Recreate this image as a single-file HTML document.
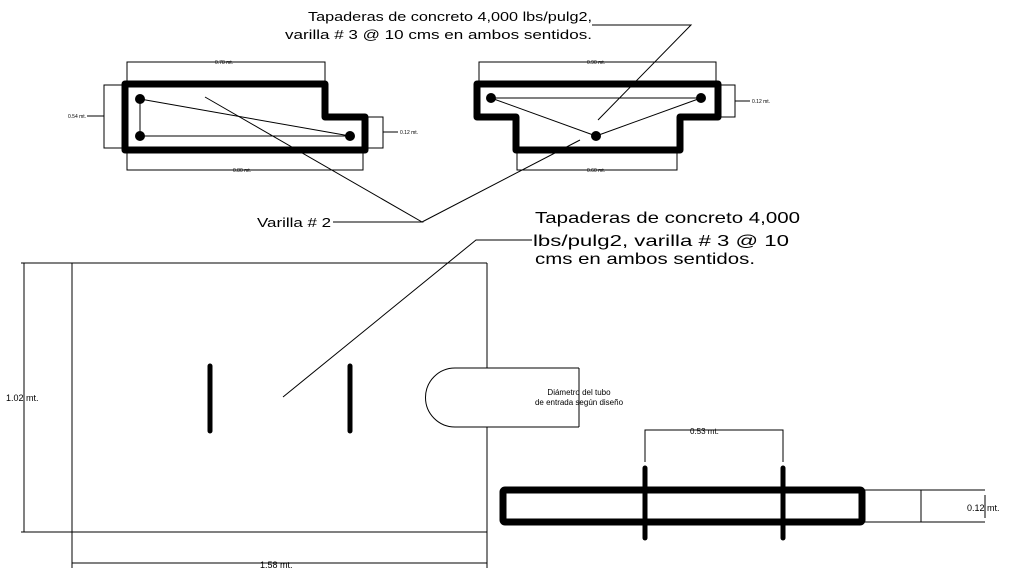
<!DOCTYPE html>
<html><head><meta charset="utf-8"><style>html,body{margin:0;padding:0;background:#fff}svg{display:block}</style></head>
<body>
<svg width="1013" height="573" viewBox="0 0 1013 573" xmlns="http://www.w3.org/2000/svg" font-family="Liberation Sans, sans-serif" fill="none" stroke="#000">
<!-- top texts -->
<g fill="#000" stroke="none" font-size="13">
<text x="308" y="21" textLength="284" lengthAdjust="spacingAndGlyphs">Tapaderas de concreto 4,000 lbs/pulg2,</text>
<text x="285" y="39" textLength="307" lengthAdjust="spacingAndGlyphs">varilla # 3 @ 10 cms en ambos sentidos.</text>
<text x="257" y="227" textLength="74" lengthAdjust="spacingAndGlyphs">Varilla # 2</text>
</g>
<g fill="#000" stroke="none" font-size="16">
<text x="535" y="223" textLength="265" lengthAdjust="spacingAndGlyphs">Tapaderas de concreto 4,000</text>
<text x="533" y="246" textLength="256" lengthAdjust="spacingAndGlyphs">lbs/pulg2, varilla # 3 @ 10</text>
<text x="535" y="264" textLength="220" lengthAdjust="spacingAndGlyphs">cms en ambos sentidos.</text>
</g>
<!-- leaders -->
<g stroke-width="1">
<polyline points="592,25 691,25 598,120"/>
<polyline points="333,222 422,222 205,97"/>
<line x1="422" y1="222" x2="580" y2="140"/>
<polyline points="532,240 476,240 283,397"/>
</g>
<!-- left section -->
<path d="M125,84 H325 V117 H365 V150 H125 Z" stroke-width="7" stroke-linejoin="round"/>
<g stroke-width="1">
<line x1="140" y1="99" x2="350" y2="136"/><line x1="140" y1="136" x2="350" y2="136"/><line x1="140" y1="99" x2="140" y2="136"/>
<polyline points="127,84 127,62 325,62 325,84"/>
<polyline points="127,150 127,170 363,170 363,150"/>
<polyline points="125,85 104,85 104,148 125,148"/><line x1="87" y1="116" x2="104" y2="116"/>
<polyline points="367,117 383,117 383,148 367,148"/><line x1="383" y1="132" x2="398" y2="132"/>
</g>
<g fill="#000" stroke="none"><circle cx="140" cy="99" r="5"/><circle cx="140" cy="136" r="5"/><circle cx="350" cy="136" r="5"/></g>
<!-- right section -->
<path d="M477,84 H718 V117 H680 V150 H516 V117 H477 Z" stroke-width="7" stroke-linejoin="round"/>
<g stroke-width="1">
<line x1="491" y1="98" x2="701" y2="98"/><line x1="491" y1="98" x2="596" y2="136"/><line x1="701" y1="98" x2="596" y2="136"/>
<polyline points="479,84 479,62 716,62 716,84"/>
<polyline points="517,150 517,170 677,170 677,150"/>
<polyline points="720,85 735,85 735,117 720,117"/><line x1="735" y1="101" x2="750" y2="101"/>
</g>
<g fill="#000" stroke="none"><circle cx="491" cy="98" r="5"/><circle cx="701" cy="98" r="5"/><circle cx="596" cy="136" r="5"/></g>
<g fill="#000" stroke="none" font-size="5">
<text x="215" y="64">0.78 mt.</text><text x="233" y="172">0.80 mt.</text>
<text x="68" y="118">0.54 mt.</text><text x="400" y="134">0.12 mt.</text>
<text x="587" y="64">0.90 mt.</text><text x="587" y="172">0.60 mt.</text><text x="752" y="103">0.12 mt.</text>
</g>
<!-- plan -->
<g stroke-width="1">
<line x1="21" y1="263" x2="487" y2="263"/><line x1="21" y1="532" x2="487" y2="532"/>
<line x1="72" y1="263" x2="72" y2="568"/><line x1="487" y1="263" x2="487" y2="368"/><line x1="487" y1="427" x2="487" y2="568"/>
<line x1="24" y1="263" x2="24" y2="532"/><line x1="72" y1="563" x2="487" y2="563"/>
<path d="M579,368 H455 A29.5,29.5 0 0 0 455,427 H579"/>
<line x1="579" y1="368" x2="579" y2="427"/>
</g>
<g stroke-width="5" stroke-linecap="round"><line x1="210" y1="366" x2="210" y2="431"/><line x1="350" y1="366" x2="350" y2="431"/></g>
<g fill="#000" stroke="none">
<text x="6" y="401" font-size="9">1.02 mt.</text>
<text x="260" y="568" font-size="9">1.58 mt.</text>
<text x="579" y="395" font-size="8" text-anchor="middle">Diámetro del tubo</text>
<text x="579" y="405" font-size="8" text-anchor="middle">de entrada según diseño</text>
</g>
<!-- bottom right section -->
<rect x="503" y="490" width="359" height="32" stroke-width="7" rx="2"/>
<g stroke-width="1">
<polyline points="862,490 985,490"/><polyline points="862,522 985,522"/><line x1="921" y1="490" x2="921" y2="522"/>
<line x1="985" y1="495" x2="985" y2="518"/>
<polyline points="645,462 645,430 783,430 783,462"/>
</g>
<g stroke-width="5" stroke-linecap="round"><line x1="645" y1="468" x2="645" y2="538"/><line x1="783" y1="468" x2="783" y2="538"/></g>
<g fill="#000" stroke="none">
<text x="690" y="434" font-size="8">0.53 mt.</text>
<text x="967" y="511" font-size="9">0.12 mt.</text>
</g>
</svg>
</body></html>
